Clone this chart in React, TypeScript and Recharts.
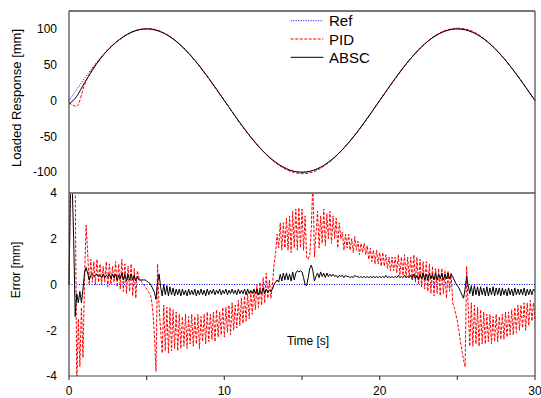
import { LineChart, Line, XAxis, YAxis } from "recharts";

const FONT = "'Liberation Sans', Arial, sans-serif";
const AX = "#444";
const THIN = 0.01; // mirrored axes take (almost) no room

// top panel: loaded response [mm], sampled every 0.5 s
const refPos = [0, 15.6, 30.9, 45.4, 58.8, 70.7, 80.9, 89.1, 95.1, 98.8, 100, 98.8, 95.1, 89.1, 80.9, 70.7, 58.8, 45.4, 30.9, 15.6,
  0, -15.6, -30.9, -45.4, -58.8, -70.7, -80.9, -89.1, -95.1, -98.8, -100, -98.8, -95.1, -89.1, -80.9, -70.7, -58.8, -45.4, -30.9, -15.6,
  0, 15.6, 30.9, 45.4, 58.8, 70.7, 80.9, 89.1, 95.1, 98.8, 100, 98.8, 95.1, 89.1, 80.9, 70.7, 58.8, 45.4, 30.9, 15.6, 0];
const pidPos = [-3, -8, 22, 44, 58, 71, 81, 89, 95.5, 99, 100.5, 99.5, 95.5, 89.5, 81, 70.5, 58.5, 45, 30.5, 15.5,
  0, -15.5, -31, -45.5, -59, -71, -81.5, -90, -96.5, -100.5, -102, -101, -97, -90, -81.5, -71, -59, -45.5, -31, -15.8,
  0, 15.5, 30.5, 45, 58.5, 70.5, 81, 89.5, 95.8, 99.5, 101, 100, 96.5, 90, 81.5, 71, 59, 45.5, 31, 15.5, 0];
const abscPos = [-5, 6, 25, 42, 58, 70.5, 80.8, 89, 95, 98.8, 100, 98.8, 95.1, 89.1, 80.9, 70.7, 58.8, 45.4, 30.9, 15.6,
  0, -15.6, -30.9, -45.4, -58.8, -70.7, -80.9, -89.1, -95.1, -98.8, -100, -98.8, -95.1, -89.1, -80.9, -70.7, -58.8, -45.4, -30.9, -15.6,
  0, 15.6, 30.9, 45.4, 58.8, 70.7, 80.9, 89.1, 95.1, 98.8, 100, 98.8, 95.1, 89.1, 80.9, 70.7, 58.8, 45.4, 30.9, 15.6, 0];

// bottom panel: error [mm], sampled every 0.1 s
const pidErr = [
  0, 4.5, 4.5, 4.5, 4.5, -4.5, -1.5, -3.6, -1.0, -3.2,
  0.2, 2.6, 1.4, 0.0, 1.1, 0.1, 1.0, 0.0, 1.1, 0.1,
  0.9, 0.0, 0.8, 0.1, 1.0, -0.1, 0.9, 0.0, 0.8, 0.1,
  1.0, -0.1, 0.9, -0.2, 1.1, -0.3, 0.9, -0.4, 0.8, -0.3,
  0.9, -0.5, 0.7, -0.6, 0.6, 0.3, 0.2, 0.1, 0.0, -0.1,
  -0.2, -0.3, -0.4, -0.6, -1.2, -2.2, -3.8, 0.9, -1.0, -2.0,
  -3.0, -0.9, -2.9, -1.0, -3.0, -1.0, -2.9, -1.1, -2.8, -1.2,
  -2.9, -1.3, -2.8, -1.4, -2.7, -1.3, -2.8, -1.4, -2.6, -1.3,
  -2.7, -1.4, -2.6, -1.3, -2.8, -1.4, -2.5, -1.3, -2.6, -1.2,
  -2.5, -1.3, -2.4, -1.2, -2.5, -1.1, -2.3, -1.2, -2.2, -1.0,
  -2.3, -1.0, -2.1, -0.9, -2.2, -0.8, -2.0, -0.9, -1.9, -0.7,
  -1.8, -0.6, -1.7, -0.5, -1.6, -0.4, -1.5, -0.3, -1.3, -0.2,
  -1.1, 0.0, -1.0, 0.1, -0.9, 0.3, -0.8, 0.5, -0.6, 0.2,
  -0.6, 0.0, 0.9, 1.4, 2.2, 1.6, 2.7, 1.5, 2.7, 1.6,
  2.9, 1.5, 3.0, 1.4, 3.2, 1.6, 3.3, 1.5, 3.35, 1.6,
  3.3, 1.5, 3.0, 1.2, 1.1, 1.3, 2.5, 4.5, 1.2, 2.2,
  3.2, 1.6, 3.0, 1.8, 3.3, 1.7, 3.1, 2.0, 3.2, 1.8,
  3.0, 2.0, 2.9, 1.6, 2.7, 2.0, 2.3, 1.5, 2.2, 1.6,
  2.2, 1.5, 2.0, 1.4, 2.1, 1.5, 1.9, 1.3, 1.8, 1.4,
  1.8, 1.3, 1.7, 1.1, 1.6, 1.0, 1.5, 0.9, 1.5, 0.9,
  1.4, 0.8, 1.4, 0.8, 1.3, 0.7, 1.2, 0.6, 1.2, 0.6,
  1.2, 0.5, 1.3, 0.4, 1.2, 0.4, 1.3, 0.3, 1.2, 0.3,
  1.2, 0.2, 1.3, 0.1, 1.2, 0.0, 1.1, -0.1, 1.0, -0.2,
  1.0, -0.3, 0.9, -0.4, 0.8, -0.5, 0.7, -0.4, 0.7, -0.5,
  0.7, -0.4, 0.6, -0.6, 0.6, -0.3, 0.5, -0.8, -1.0, -1.3,
  -1.6, -2.0, -2.5, -2.9, -3.3, -3.6, 0.8, -1.0, -2.7, -0.8,
  -2.7, -0.9, -2.6, -1.0, -2.7, -1.1, -2.6, -1.2, -2.6, -1.3,
  -2.5, -1.3, -2.6, -1.4, -2.5, -1.3, -2.5, -1.4, -2.4, -1.3,
  -2.4, -1.2, -2.3, -1.2, -2.2, -1.1, -2.2, -1.0, -2.1, -0.9,
  -2.0, -0.9, -1.9, -0.8, -2.0, -0.8, -1.8, -0.7, -1.6, -0.8,
  -1.5,
];
const abscErr = [
  0, 4.5, 4.5, 2.0, -1.4, -0.4, -0.8, -0.3, -0.8, -0.2,
  0.5, 0.75, 0.5, 0.2, 0.4, 0.45, 0.35, 0.4, 0.45, 0.35,
  0.4, 0.3, 0.45, 0.3, 0.4, 0.35, 0.45, 0.25, 0.45, 0.3,
  0.45, 0.2, 0.4, 0.25, 0.5, 0.2, 0.45, 0.15, 0.45, 0.2,
  0.45, 0.2, 0.4, 0.15, 0.35, 0.2, 0.2, 0.2, 0.2, 0.2,
  0.15, 0.1, 0.05, -0.05, -0.2, -0.35, -0.65, 0.1, 0.45, -0.1,
  -0.5, 0.0, -0.45, -0.05, -0.5, -0.1, -0.45, -0.15, -0.5, -0.2,
  -0.45, -0.2, -0.5, -0.2, -0.45, -0.25, -0.5, -0.2, -0.45, -0.25,
  -0.45, -0.2, -0.5, -0.25, -0.45, -0.2, -0.45, -0.25, -0.5, -0.2,
  -0.45, -0.25, -0.4, -0.2, -0.45, -0.25, -0.4, -0.2, -0.45, -0.25,
  -0.4, -0.2, -0.45, -0.25, -0.4, -0.2, -0.4, -0.25, -0.45, -0.2,
  -0.4, -0.25, -0.4, -0.2, -0.45, -0.2, -0.4, -0.25, -0.4, -0.2,
  -0.4, -0.2, -0.45, -0.25, -0.4, -0.15, -0.4, -0.2, -0.35, -0.25,
  -0.3, -0.2, 0.0, 0.1, 0.2, 0.1, 0.45, 0.15, 0.5, 0.2,
  0.5, 0.2, 0.45, 0.15, 0.55, 0.2, 0.5, 0.6, 0.55, 0.6,
  0.55, 0.3, 0.0, -0.05, 0.3, 0.7, 0.85, 0.6, 0.15, 0.35,
  0.5, 0.3, 0.55, 0.35, 0.5, 0.3, 0.5, 0.35, 0.45, 0.35,
  0.45, 0.35, 0.4, 0.3, 0.4, 0.35, 0.4, 0.3, 0.4, 0.35,
  0.35, 0.3, 0.35, 0.3, 0.4, 0.35, 0.35, 0.3, 0.35, 0.3,
  0.35, 0.3, 0.35, 0.3, 0.35, 0.3, 0.35, 0.3, 0.35, 0.3,
  0.35, 0.3, 0.35, 0.3, 0.4, 0.3, 0.35, 0.3, 0.35, 0.3,
  0.35, 0.3, 0.4, 0.3, 0.35, 0.3, 0.4, 0.3, 0.35, 0.3,
  0.4, 0.25, 0.45, 0.25, 0.4, 0.2, 0.45, 0.25, 0.5, 0.2,
  0.45, 0.2, 0.5, 0.25, 0.45, 0.2, 0.5, 0.2, 0.45, 0.25,
  0.5, 0.2, 0.45, 0.25, 0.5, 0.25, 0.45, 0.35, 0.2, 0.05,
  -0.05, -0.15, -0.3, -0.45, -0.6, -0.2, 0.35, -0.05, -0.4, -0.05,
  -0.5, -0.05, -0.45, -0.1, -0.5, -0.1, -0.45, -0.15, -0.5, -0.1,
  -0.5, -0.15, -0.45, -0.1, -0.5, -0.15, -0.45, -0.15, -0.5, -0.15,
  -0.45, -0.2, -0.5, -0.15, -0.45, -0.2, -0.5, -0.15, -0.45, -0.2,
  -0.45, -0.2, -0.45, -0.15, -0.5, -0.2, -0.45, -0.2, -0.45, -0.2,
  -0.3,
];
const refErrTime = [0, 30];
const refErr = [0, 0];

const xTicks = [0, 5, 10, 15, 20, 25, 30];
const posMajor = [-100, -50, 0, 50, 100];
const posMinor = [-125, -75, -25, 25, 75, 125];
const errMajor = [-4, -2, 0, 2, 4];
const errMinor = [-3, -1, 1, 3];

const topData = refPos.map((v, i) => ({ t: i * 0.5, ref: v, pid: pidPos[i], absc: abscPos[i] }));
const errData = pidErr.map((v, i) => ({ t: i / 10, pid: v, absc: abscErr[i] }));
const refErrData = refErrTime.map((t, i) => ({ t, ref: refErr[i] }));

const series = [
  { name: "Ref", color: "#0000ff", dash: "1 1.5" },
  { name: "PID", color: "#ff0000", dash: "3 1.5" },
  { name: "ABSC", color: "#000000", dash: undefined as string | undefined },
];

const tickStyle = { fontSize: 12, fill: "#000", fontFamily: FONT };

const yTitle = (text: string, cy: number, size: number) => () => (
  <text x={16} y={cy} transform={`rotate(-90 16 ${cy})`} textAnchor="middle" dominantBaseline="central"
    fontSize={size} fontFamily={FONT} fill="#000">{text}</text>
);

export default function App() {
  return (
    <div style={{ position: "absolute", left: 0, top: 0, width: 541, height: 398, background: "#fff" }}>
      <div style={{ position: "absolute", left: 0, top: 0 }}>
        <LineChart width={541} height={398} data={errData} margin={{ top: 193, right: 6, bottom: 0, left: 0 }}>
          <XAxis xAxisId="b" dataKey="t" type="number" domain={[0, 30]} ticks={xTicks} interval={0} height={22}
            tickSize={4} tickMargin={6} stroke={AX} strokeWidth={1.2} tick={tickStyle}
            tickFormatter={(v: number) => (v % 10 === 0 ? String(v) : "")}
            label={{ content: () => <text x={308} y={345} textAnchor="middle" fontSize={12} fontFamily={FONT} fill="#000">Time [s]</text> }} />
          <XAxis xAxisId="t" dataKey="t" type="number" domain={[0, 30]} ticks={xTicks} interval={0} orientation="top"
            mirror height={THIN} tick={false} tickSize={5} stroke="#777" strokeWidth={1.5} />
          <YAxis yAxisId="lab" type="number" domain={[-4, 4]} allowDataOverflow ticks={errMajor} interval={0} width={69}
            axisLine={false} tickLine={false} tickSize={0} tickMargin={12} tick={tickStyle}
            label={{ content: yTitle("Error [mm]", 270, 12) }} />
          <YAxis yAxisId="lmaj" type="number" domain={[-4, 4]} allowDataOverflow ticks={errMajor} interval={0} mirror width={THIN}
            tick={false} tickSize={5} stroke={AX} strokeWidth={1.2} />
          <YAxis yAxisId="lmin" type="number" domain={[-4, 4]} allowDataOverflow ticks={errMinor} interval={0} mirror width={THIN}
            tick={false} tickSize={3} axisLine={false} stroke={AX} />
          <YAxis yAxisId="rmaj" orientation="right" type="number" domain={[-4, 4]} allowDataOverflow ticks={errMajor} interval={0}
            mirror width={THIN} tick={false} tickSize={5} stroke={AX} strokeWidth={1.2} />
          <YAxis yAxisId="rmin" orientation="right" type="number" domain={[-4, 4]} allowDataOverflow ticks={errMinor} interval={0}
            mirror width={THIN} tick={false} tickSize={3} axisLine={false} stroke={AX} />
          <Line xAxisId="b" yAxisId="lab" data={refErrData} dataKey="ref" stroke="#0000ff" strokeDasharray="1 1.5"
            strokeWidth={1} dot={false} isAnimationActive={false} />
          <Line xAxisId="b" yAxisId="lab" dataKey="pid" type="linear" stroke="#ff0000" strokeDasharray="3 1.5"
            strokeWidth={1} dot={false} isAnimationActive={false} />
          <Line xAxisId="b" yAxisId="lab" dataKey="absc" type="linear" stroke="#000" strokeWidth={1}
            dot={false} isAnimationActive={false} />
        </LineChart>
      </div>
      <div style={{ position: "absolute", left: 0, top: 0 }}>
        <LineChart width={541} height={194} data={topData} margin={{ top: 11, right: 6, bottom: 1, left: 0 }}>
          <XAxis xAxisId="b" dataKey="t" type="number" domain={[0, 30]} ticks={xTicks} interval={0} orientation="bottom"
            mirror height={THIN} tick={false} tickSize={5} stroke="#777" strokeWidth={1.5} />
          <XAxis xAxisId="t" dataKey="t" type="number" domain={[0, 30]} ticks={xTicks} interval={0} orientation="top"
            mirror height={THIN} tick={false} tickSize={4} stroke="#777" strokeWidth={2} />
          <YAxis yAxisId="lab" type="number" domain={[-129, 125]} allowDataOverflow ticks={posMajor} interval={0} width={69}
            axisLine={false} tickLine={false} tickSize={0} tickMargin={12} tick={tickStyle}
            label={{ content: yTitle("Loaded Response [mm]", 98, 13) }} />
          <YAxis yAxisId="lmaj" type="number" domain={[-129, 125]} allowDataOverflow ticks={posMajor} interval={0} mirror
            width={THIN} tick={false} tickSize={5} stroke={AX} strokeWidth={1.2} />
          <YAxis yAxisId="lmin" type="number" domain={[-129, 125]} allowDataOverflow ticks={posMinor} interval={0} mirror
            width={THIN} tick={false} tickSize={3} axisLine={false} stroke={AX} />
          <YAxis yAxisId="rmaj" orientation="right" type="number" domain={[-129, 125]} allowDataOverflow ticks={posMajor}
            interval={0} mirror width={THIN} tick={false} tickSize={5} stroke={AX} strokeWidth={1.2} />
          <YAxis yAxisId="rmin" orientation="right" type="number" domain={[-129, 125]} allowDataOverflow ticks={posMinor}
            interval={0} mirror width={THIN} tick={false} tickSize={3} axisLine={false} stroke={AX} />
          <Line xAxisId="b" yAxisId="lab" dataKey="ref" type="monotone" stroke="#0000ff" strokeDasharray="1 1.5"
            strokeWidth={1} dot={false} isAnimationActive={false} />
          <Line xAxisId="b" yAxisId="lab" dataKey="pid" type="monotone" stroke="#ff0000" strokeDasharray="3 1.5"
            strokeWidth={1} dot={false} isAnimationActive={false} />
          <Line xAxisId="b" yAxisId="lab" dataKey="absc" type="monotone" stroke="#000" strokeWidth={1}
            dot={false} isAnimationActive={false} />
        </LineChart>
      </div>
      <svg width={130} height={66} style={{ position: "absolute", left: 285, top: 10 }}>
        {series.map((s, i) => (
          <g key={s.name}>
            <line x1={5.7} x2={38.3} y1={10.7 + i * 18.3} y2={10.7 + i * 18.3} stroke={s.color}
              strokeWidth={1} strokeDasharray={s.dash} />
            <text x={44} y={10.7 + i * 18.3} dominantBaseline="central" fontSize={15} fontFamily={FONT} fill="#000">
              {s.name}
            </text>
          </g>
        ))}
      </svg>
    </div>
  );
}
